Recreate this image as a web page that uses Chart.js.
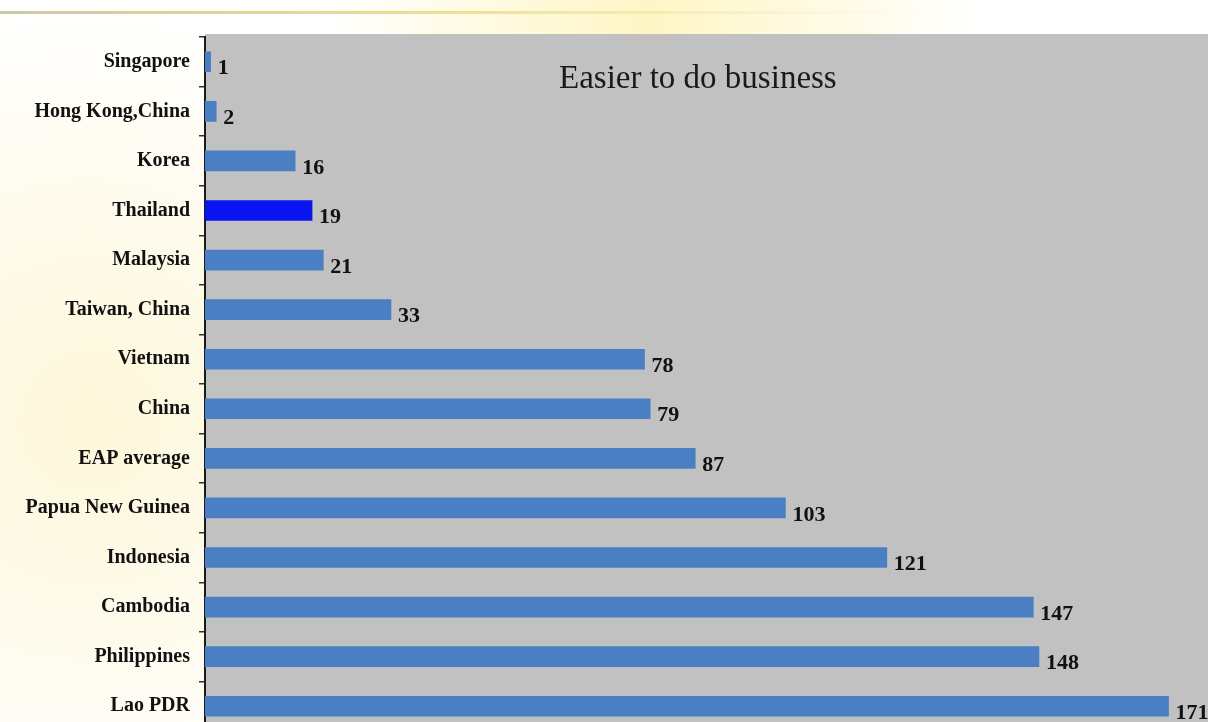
<!DOCTYPE html>
<html>
<head>
<meta charset="utf-8">
<script src="https://cdn.jsdelivr.net/npm/chart.js@4/dist/chart.umd.min.js"></script>
<style>
  html, body { margin: 0; padding: 0; background: #fff; overflow: hidden; }
  #wrap { width: 1208px; height: 722px; overflow: hidden; }
</style>
</head>
<body>
<div id="wrap"><canvas id="rank" width="1208" height="752"></canvas></div>
<script>
// Ease of doing business ranking, East Asia & Pacific
const countries = ['Singapore', 'Hong Kong,China', 'Korea', 'Thailand', 'Malaysia', 'Taiwan, China',
  'Vietnam', 'China', 'EAP average', 'Papua New Guinea', 'Indonesia', 'Cambodia', 'Philippines', 'Lao PDR'];
const ranks = [1, 2, 16, 19, 21, 33, 78, 79, 87, 103, 121, 147, 148, 171];
const highlight = 'Thailand';

const barColors = countries.map(c => c === highlight ? '#0a14f0' : '#4a7fc4');

// page backdrop: cream glow on the left, yellow haze on top, thin rule near the top
const backdrop = {
  id: 'backdrop',
  beforeDraw(chart) {
    const { ctx, chartArea: a, width, height } = chart;
    ctx.save();
    ctx.fillStyle = '#fff';
    ctx.fillRect(0, 0, width, height);

    let g = ctx.createRadialGradient(90, 420, 10, 90, 420, 420);
    g.addColorStop(0, 'rgba(253,246,214,0.9)');
    g.addColorStop(1, 'rgba(253,246,214,0)');
    ctx.fillStyle = g;
    ctx.fillRect(0, 0, a.left, height);

    g = ctx.createRadialGradient(650, 20, 10, 650, 20, 330);
    g.addColorStop(0, 'rgba(255,243,180,0.75)');
    g.addColorStop(1, 'rgba(255,243,180,0)');
    ctx.fillStyle = g;
    ctx.fillRect(0, 0, width, a.top);

    g = ctx.createLinearGradient(0, 0, 940, 0);
    g.addColorStop(0, 'rgba(200,196,150,0.9)');
    g.addColorStop(0.5, 'rgba(235,222,140,0.9)');
    g.addColorStop(1, 'rgba(240,235,200,0)');
    ctx.fillStyle = g;
    ctx.fillRect(0, 11, 940, 3);

    // plot panel
    ctx.fillStyle = '#c1c1c1';
    ctx.fillRect(a.left, a.top - 3, width - a.left, height - a.top + 3);
    ctx.restore();
  }
};

// title and rank numbers at bar ends
const annotate = {
  id: 'annotate',
  afterDatasetsDraw(chart) {
    const { ctx } = chart;
    ctx.save();
    ctx.fillStyle = '#1a1a1a';
    ctx.font = '33px "Liberation Serif", serif';
    ctx.textAlign = 'left';
    ctx.textBaseline = 'middle';
    ctx.fillText('Easier to do business', 559, 79);

    ctx.fillStyle = '#111';
    ctx.font = 'bold 22px "Liberation Serif", serif';
    chart.getDatasetMeta(0).data.forEach((bar, i) => {
      ctx.fillText(String(ranks[i]), bar.x + 7, bar.y + 7);
    });
    ctx.restore();
  }
};

new Chart(document.getElementById('rank'), {
  type: 'bar',
  data: {
    labels: countries,
    datasets: [{
      data: ranks,
      backgroundColor: barColors,
      barThickness: 20,
      borderWidth: 0
    }]
  },
  options: {
    indexAxis: 'y',
    responsive: false,
    animation: false,
    layout: { padding: { top: 37, bottom: 8, right: 0, left: 0 } },
    plugins: {
      legend: { display: false },
      tooltip: { enabled: false }
    },
    scales: {
      x: { display: false, min: 0, max: 178 },
      y: {
        afterFit(scale) { scale.width = 205; },
        border: { display: true, color: '#1a1a1a', width: 2 },
        grid: { offset: true, drawOnChartArea: false, drawTicks: true, tickLength: 6, color: '#333', lineWidth: 1.5 },
        ticks: {
          color: '#111',
          padding: 9,
          font: { family: '"Liberation Serif", serif', size: 20, weight: 'bold' }
        }
      }
    }
  },
  plugins: [backdrop, annotate]
});
</script>
</body>
</html>
